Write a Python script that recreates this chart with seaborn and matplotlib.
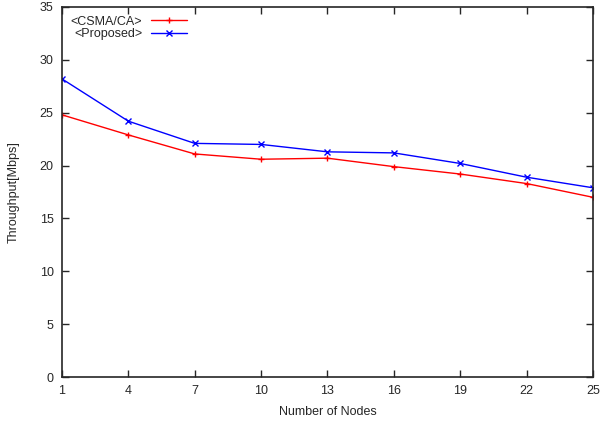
import matplotlib
matplotlib.use("Agg")
import matplotlib.pyplot as plt
import seaborn as sns
import pandas as pd

nodes = [1, 4, 7, 10, 13, 16, 19, 22, 25]
csma_ca = [24.8, 22.9, 21.1, 20.6, 20.7, 19.9, 19.2, 18.3, 17.0]
proposed = [28.2, 24.2, 22.1, 22.0, 21.3, 21.2, 20.2, 18.9, 17.9]

sns.set_style("ticks")
plt.rcParams['font.family'] = ['Liberation Sans', 'DejaVu Sans']

data = pd.DataFrame({
    'Nodes': nodes * 2,
    'Throughput': csma_ca + proposed,
    'Scheme': ['<CSMA/CA>'] * len(nodes) + ['<Proposed>'] * len(nodes),
})

fig = plt.figure(figsize=(6.1, 4.24), dpi=100)
ax = fig.add_axes([0.1016, 0.1108, 0.8705, 0.8727])

sns.lineplot(data=data, x='Nodes', y='Throughput', hue='Scheme', style='Scheme',
             palette={'<CSMA/CA>': 'red', '<Proposed>': 'blue'},
             markers={'<CSMA/CA>': '+', '<Proposed>': 'x'}, dashes=False,
             markersize=5, markeredgewidth=1.0, linewidth=1.0, ax=ax, legend=False)

# seaborn paints marker edges white, which hides + and x
for ln in ax.lines:
    ln.set_markeredgecolor(ln.get_color())

ax.set_xlim(1, 25)
ax.set_ylim(0, 35)
ax.set_xticks(nodes)
ax.set_yticks(range(0, 36, 5))
ax.tick_params(direction='in', length=5, width=1, top=True, right=True, labelsize=9, pad=6)
for s in ax.spines.values():
    s.set_linewidth(1.2)
    s.set_visible(True)
ax.set_xlabel('Number of Nodes', fontsize=9, labelpad=6)
ax.set_ylabel('Throughput[Mbps]', fontsize=9, labelpad=14)

leg = ax.legend(ax.lines[:2], ['<CSMA/CA>', '<Proposed>'], loc='upper left', frameon=False,
                markerfirst=False, fontsize=9, handlelength=2.9, borderaxespad=0.3,
                labelspacing=0.05, handletextpad=0.7, numpoints=1)

fig.savefig('out.png', dpi=100)
